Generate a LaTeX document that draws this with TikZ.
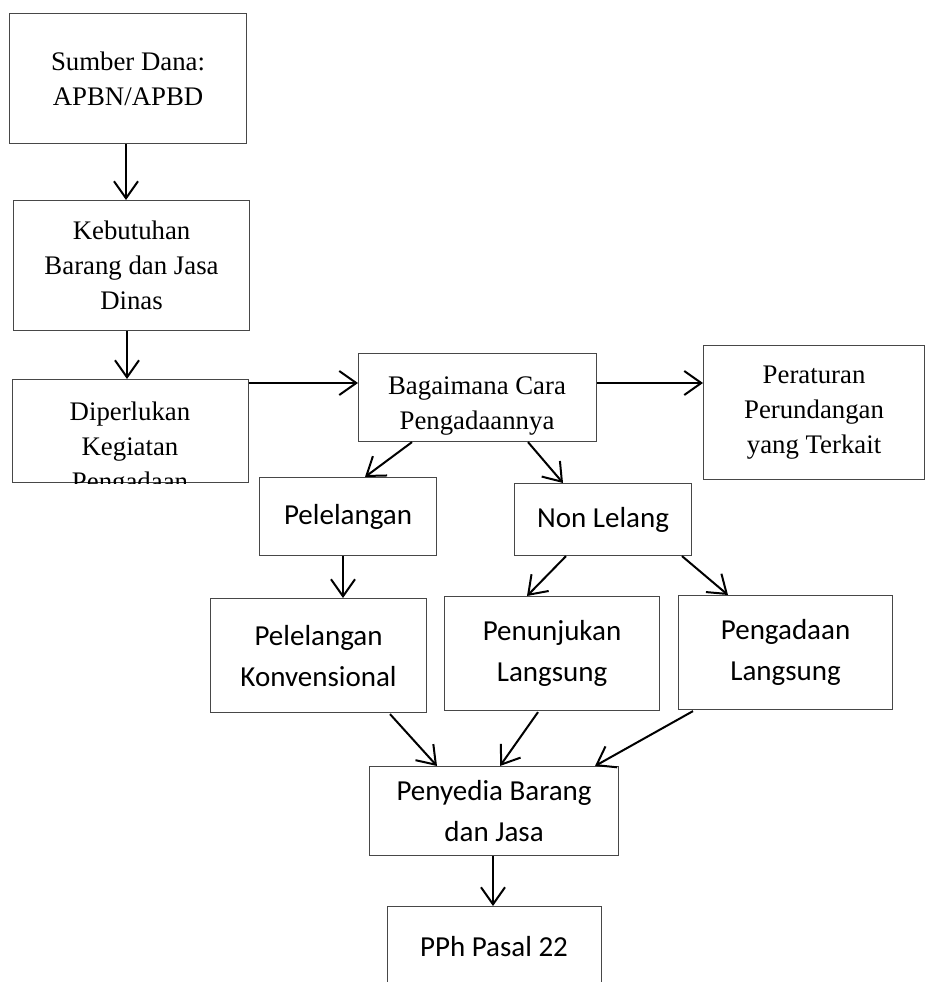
\documentclass[tikz,border=0pt]{standalone}
\usepackage{fontspec}
\setmainfont{Liberation Serif}
\newfontfamily\calib{Carlito}
\usetikzlibrary{arrows.meta,calc}
\begin{document}
\begin{tikzpicture}[x=1pt,y=-1pt,
  box/.style={draw=black!72, line width=1.1pt, fill=white, inner sep=0pt, anchor=north west},
  serif/.style={font=\fontsize{26.8}{35}\selectfont, align=center, inner sep=0pt},
  sans/.style={font=\calib\fontsize{29}{41}\selectfont, align=center, inner sep=0pt},
  arr/.style={line width=2pt, -{Straight Barb[length=17pt,width=24pt,line width=2pt]}}]
\useasboundingbox (0,0) rectangle (925,982);
\fill[white] (0,0) rectangle (925,982);

% top column (serif)
\node[box, minimum width=237, minimum height=130, serif] (sumber) at (9,13) {Sumber Dana:\\APBN/APBD};
\node[box, minimum width=236, minimum height=130, serif] (kebutuhan) at (13,200) {Kebutuhan\\Barang dan Jasa\\Dinas};
\node[box, minimum width=236, minimum height=103] (diperlukan) at (12,379) {};
\begin{scope}
  \clip (diperlukan.south west) rectangle (diperlukan.north east);
  \node[serif] (diptext) at (130,449) {Diperlukan\\Kegiatan\\Pengadaan};
\end{scope}

\node[box, minimum width=238, minimum height=88] (bagaimana) at (358,353) {};
\node[serif] (bagtext) at (477,406) {Bagaimana Cara\\Pengadaannya};

\node[box, minimum width=221, minimum height=134, serif] (peraturan) at (703,345) {Peraturan\\Perundangan\\yang Terkait};

% lower part (sans)
\node[box, minimum width=177, minimum height=78, sans] (pelelangan) at (259,477) {Pelelangan};
\node[box, minimum width=177, minimum height=72, sans] (nonlelang) at (514,483) {Non Lelang};

\node[box, minimum width=216, minimum height=114, sans] (konvensional) at (210,598) {Pelelangan\\Konvensional};
\node[box, minimum width=215, minimum height=114, sans] (penunjukan) at (444,596) {Penunjukan\\Langsung};
\node[box, minimum width=214, minimum height=114, sans] (pengadaan) at (678,595) {Pengadaan\\Langsung};

\node[box, minimum width=249, minimum height=89, sans] (penyedia) at (369,766) {Penyedia Barang\\dan Jasa};
\node[box, minimum width=214, minimum height=120] (pph) at (387,906) {};
\node[sans] (pphtext) at (494,947) {PPh Pasal 22};

% connectors
\draw[arr] ($(sumber.south west)+(117,0)$) -- ($(kebutuhan.north west)+(113,0)$);
\draw[arr] ($(kebutuhan.south west)+(114,0)$) -- ($(diperlukan.north west)+(115,0)$);
\draw[arr] ($(diperlukan.north east)+(0,4)$) -- ($(bagaimana.north west)+(0,30)$);
\draw[arr] ($(bagaimana.north east)+(0,30)$) -- ($(peraturan.north west)+(0,38)$);
\draw[arr] ($(bagaimana.south west)+(54,0)$) -- ($(pelelangan.north west)+(106,0)$);
\draw[arr] ($(bagaimana.south west)+(170,0)$) -- ($(nonlelang.north west)+(49,0)$);
\draw[arr] ($(pelelangan.south west)+(84,0)$) -- ($(konvensional.north west)+(133,0)$);
\draw[arr] ($(nonlelang.south west)+(52,0)$) -- ($(penunjukan.north west)+(83,0)$);
\draw[arr] ($(nonlelang.south west)+(168,0)$) -- ($(pengadaan.north west)+(50,0)$);
\draw[arr] ($(konvensional.south west)+(180,1)$) -- ($(penyedia.north west)+(68,0)$);
\draw[arr] ($(penunjukan.south west)+(94,1)$) -- ($(penyedia.north west)+(131,0)$);
\draw[arr] ($(pengadaan.south west)+(15,1)$) -- ($(penyedia.north west)+(226,0)$);
\draw[arr] ($(penyedia.south west)+(124,0)$) -- ($(pph.north west)+(106,0)$);
\end{tikzpicture}
\end{document}
